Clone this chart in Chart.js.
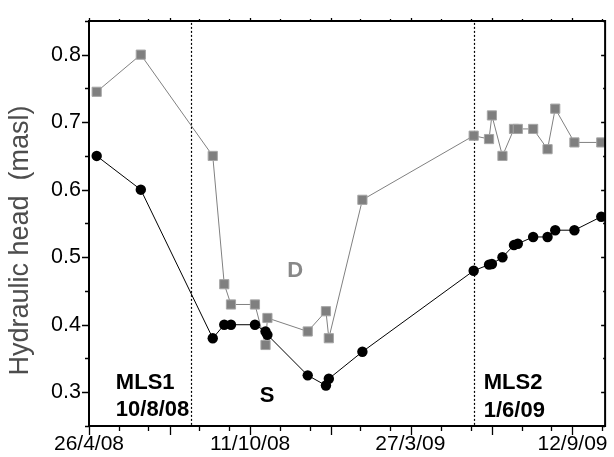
<!DOCTYPE html>
<html><head><meta charset="utf-8">
<script src="https://cdn.jsdelivr.net/npm/chart.js@4.4.0/dist/chart.umd.min.js"></script>
<style>html,body{margin:0;padding:0;background:#fff;}canvas{display:block;}</style>
</head><body>
<canvas id="c" width="614" height="457"></canvas>
<script>
// ---- data ----
const sampleDates = ['2008-05-04','2008-06-19','2008-09-02','2008-09-14','2008-09-21','2008-10-16',
  '2008-10-27','2008-10-29','2008-12-10','2008-12-29','2009-01-01','2009-02-05','2009-06-01',
  '2009-06-17','2009-06-20','2009-07-01','2009-07-13','2009-07-17','2009-08-02','2009-08-17',
  '2009-08-25','2009-09-14','2009-10-12'];
const headS = [0.65,0.60,0.38,0.40,0.40,0.40,0.39,0.385,0.325,0.31,0.32,0.36,0.48,
  0.489,0.49,0.50,0.518,0.52,0.53,0.53,0.54,0.54,0.56];
const headD = [0.745,0.80,0.65,0.46,0.43,0.43,0.37,0.41,0.39,0.42,0.38,0.585,0.68,
  0.675,0.71,0.65,0.69,0.69,0.69,0.66,0.72,0.67,0.67];
const seriesNames = ['S','D'];
const xTickDates = ['2008-04-26','2008-10-11','2009-03-27','2009-09-12'];
const xTickLabels = ['26/4/08','11/10/08','27/3/09','12/9/09'];
const yTickValues = [0.3,0.4,0.5,0.6,0.7,0.8];
const mlsDates = ['2008-08-10','2009-06-01'];
const mlsNames = ['MLS1','MLS2'];
const mlsDateLabels = ['10/8/08','1/6/09'];
const yTitle = 'Hydraulic head  (masl)';

// ---- helpers ----
const ORIGIN = Date.UTC(2008,3,26);
function dayOf(s){const [y,m,d]=s.split('-').map(Number);return (Date.UTC(y,m-1,d)-ORIGIN)/86400000;}
const FONT = "'Liberation Sans', Arial, Helvetica, sans-serif";
const pts = arr => sampleDates.map((d,i)=>({x:dayOf(d), y:arr[i]}));
const xTickDays = xTickDates.map(dayOf);

const guides = {
  id:'guides',
  beforeDatasetsDraw(chart){
    const {ctx, chartArea:a, scales:{x}} = chart;
    ctx.save();
    ctx.strokeStyle='#000'; ctx.lineWidth=1.2; ctx.setLineDash([2,2]);
    mlsDates.forEach(d=>{
      const px = Math.round(x.getPixelForValue(dayOf(d)))+0.5;
      ctx.beginPath(); ctx.moveTo(px,a.top+2); ctx.lineTo(px,a.bottom-1); ctx.stroke();
    });
    ctx.restore();
  }
};

const frameTicks = {
  id:'frameTicks',
  afterDraw(chart){
    const {ctx, chartArea:a, scales:{x,y}} = chart;
    ctx.save();
    ctx.strokeStyle='#000';
    ctx.lineWidth=2;
    ctx.beginPath();
    ctx.moveTo(a.left-1,a.top); ctx.lineTo(a.right,a.top); ctx.lineTo(a.right,a.bottom+1);
    ctx.stroke();
    ctx.lineWidth=1.3;
    ctx.beginPath();
    for(let m=0;m<=x.max;m+=84){
      [[m,9,3],[m+31,5,2],[m+62,5,2]].forEach(([v,lb,lt])=>{
        if(v>x.max) return;
        const px=Math.round(x.getPixelForValue(v))+0.5;
        ctx.moveTo(px,a.bottom); ctx.lineTo(px,a.bottom+lb);
        ctx.moveTo(px,a.top); ctx.lineTo(px,a.top-lt);
      });
    }
    for(let k=0;k<=12;k++){
      const v=0.25+k*0.05, major=(k%2===1);
      const py=Math.round(y.getPixelForValue(v))+0.5;
      ctx.moveTo(a.left,py); ctx.lineTo(a.left-(major?7:4),py);
      ctx.moveTo(a.right,py); ctx.lineTo(a.right-(major?4:2),py);
    }
    ctx.stroke();
    ctx.restore();
  }
};

const notes = {
  id:'notes',
  afterDatasetsDraw(chart){
    const {ctx, chartArea:a, scales:{x,y}} = chart;
    ctx.save();
    ctx.font = "bold 22px "+FONT;
    ctx.textBaseline='alphabetic';
    const anchors = [{day:28, align:'left'},{day:411.5, align:'left'}];
    const base1 = [0.3043,0.3043], base2=[0.2655,0.2626];
    mlsNames.forEach((n,i)=>{
      ctx.fillStyle='#000'; ctx.textAlign=anchors[i].align;
      const px=x.getPixelForValue(anchors[i].day);
      ctx.fillText(n, px, y.getPixelForValue(base1[i]));
      ctx.fillText(mlsDateLabels[i], px, y.getPixelForValue(base2[i]));
    });
    ctx.textAlign='center';
    ctx.fillStyle='#000';
    ctx.fillText(seriesNames[0], x.getPixelForValue(185.7), y.getPixelForValue(0.285));
    ctx.fillStyle='#888888';
    ctx.fillText(seriesNames[1], x.getPixelForValue(215), y.getPixelForValue(0.470));
    ctx.fillStyle='#4d4d4d';
    ctx.font = "27px "+FONT;
    ctx.textAlign='center'; ctx.textBaseline='middle';
    ctx.translate(21, (a.top+a.bottom)/2+17);
    ctx.rotate(-Math.PI/2);
    ctx.fillText(yTitle,0,0);
    ctx.restore();
  }
};

new Chart(document.getElementById('c'), {
  type:'line',
  data:{datasets:[
    {label:seriesNames[0], data:pts(headS), borderColor:'#000', borderWidth:1,
     pointStyle:'circle', pointRadius:5.2, pointBackgroundColor:'#000', pointBorderColor:'#000', pointBorderWidth:0, tension:0},
    {label:seriesNames[1], data:pts(headD), borderColor:'#808080', borderWidth:1,
     pointStyle:'rect', pointRadius:6.5, pointBackgroundColor:'#7f7f7f', pointBorderColor:'#a6a6a6', pointBorderWidth:1, tension:0}
  ]},
  options:{
    responsive:false, animation:false, events:[],
    layout:{padding:{top:8,right:7,left:0,bottom:0}},
    plugins:{legend:{display:false}, tooltip:{enabled:false}},
    scales:{
      x:{type:'linear', min:0, max:538,
        grid:{display:false, drawTicks:false},
        border:{display:true,color:'#000',width:2},
        afterBuildTicks:s=>{s.ticks = xTickDays.map(v=>({value:v}));},
        afterFit:s=>{s.height=31;},
        ticks:{autoSkip:false, maxRotation:0, padding:6, color:'#000', font:{family:FONT,size:21},
          callback:(v,i)=>xTickLabels[i]}},
      y:{type:'linear', min:0.25, max:0.85,
        grid:{display:false, drawTicks:false},
        border:{display:true,color:'#000',width:2},
        afterBuildTicks:s=>{s.ticks = yTickValues.map(v=>({value:v}));},
        afterFit:s=>{s.width=89;},
        ticks:{padding:8, color:'#000', font:{family:FONT,size:21.5},
          callback:v=>Number(v).toFixed(1)}}
    }
  },
  plugins:[guides, frameTicks, notes]
});
</script>
</body></html>
